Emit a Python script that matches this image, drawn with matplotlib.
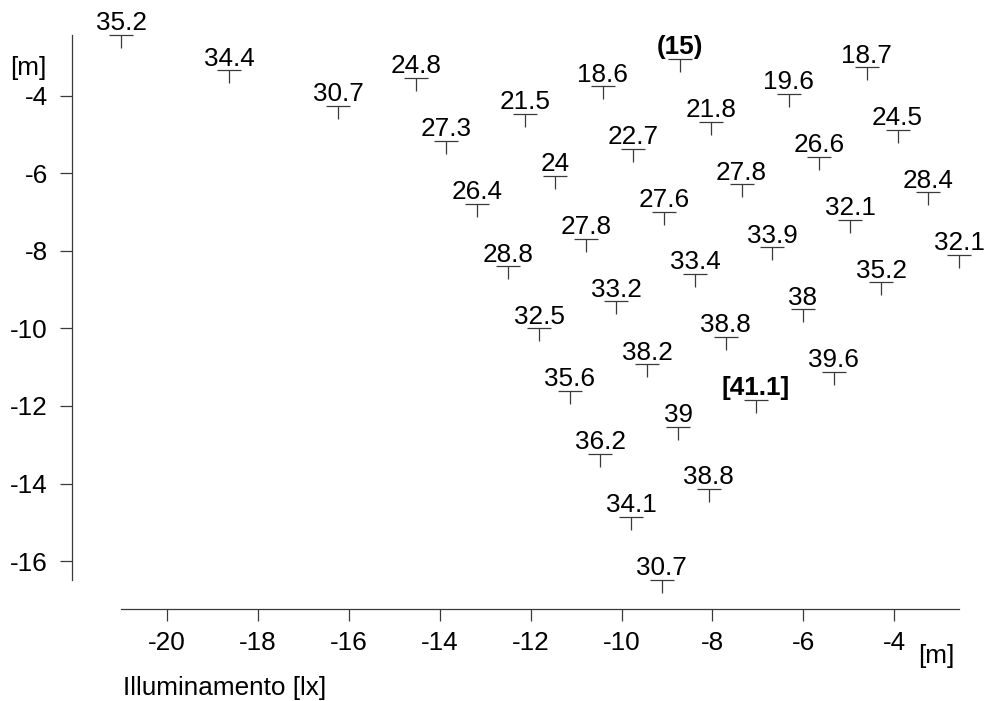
import matplotlib
matplotlib.use("Agg")
import matplotlib.pyplot as plt

plt.rcParams['font.family'] = ['Liberation Sans', 'DejaVu Sans']
plt.rcParams['axes.unicode_minus'] = False

# Data: positions [m] and illuminance labels [lx]
x = [-21.00, -18.62, -16.23, -14.52, -13.85, -12.13, -10.41, -11.46, -13.18, -10.78,
     -12.50, -8.71, -4.61, -6.32, -8.04, -3.93, -9.74, -5.65, -7.36, -3.25,
     -9.07, -4.97, -8.38, -10.11, -11.81, -7.71, -9.43, -11.14, -8.75, -6.68,
     -2.57, -4.29, -6.01, -5.33, -7.04, -10.47, -8.08, -9.79, -9.12]
y = [-2.43, -3.345, -4.26, -3.54, -5.17, -4.46, -3.76, -6.07, -6.785, -7.695,
     -8.40, -3.05, -3.27, -3.96, -4.67, -4.88, -5.37, -5.57, -6.285, -6.49,
     -6.99, -7.20, -8.60, -9.30, -10.00, -10.21, -10.93, -11.62, -12.535, -7.91,
     -8.10, -8.81, -9.51, -11.13, -11.84, -13.24, -14.14, -14.86, -16.48]
labels = ["35.2", "34.4", "30.7", "24.8", "27.3", "21.5", "18.6", "24", "26.4", "27.8",
          "28.8", "(15)", "18.7", "19.6", "21.8", "24.5", "22.7", "26.6", "27.8", "28.4",
          "27.6", "32.1", "33.4", "33.2", "32.5", "38.8", "38.2", "35.6", "39", "33.9",
          "32.1", "35.2", "38", "39.6", "[41.1]", "36.2", "38.8", "34.1", "30.7"]
bold_labels = ["(15)", "[41.1]"]

xticks = [-20, -18, -16, -14, -12, -10, -8, -6, -4]
yticks = [-4, -6, -8, -10, -12, -14, -16]

W, H = 986, 701
FS = 18.8
fig = plt.figure(figsize=(W / 100, H / 100), dpi=100)

# axes placement (pixels)
ax_left_px, ax_right_px = 72.3, 975.0
ax_top_px, ax_bot_px = 20.0, 609.3
ax = fig.add_axes([ax_left_px / W, 1 - ax_bot_px / H,
                   (ax_right_px - ax_left_px) / W, (ax_bot_px - ax_top_px) / H])

def px2x(px):
    return -20 + (px - 166.7) / 45.48

def py2y(py):
    return -4 - (py - 95.7) / 38.78

ax.set_xlim(px2x(ax_left_px), px2x(ax_right_px))
ax.set_ylim(py2y(ax_bot_px), py2y(ax_top_px))

col = '#3a3a3a'
ax.plot(x, y, ls='none', marker='_', ms=17.3, mew=0.9, color=col)
ax.plot(x, y, ls='none', marker=3, ms=9.1, mew=0.9, color=col)

for xi, yi, lab in zip(x, y, labels):
    ax.annotate(lab, (xi, yi), xytext=(0, 3.4), textcoords='offset points',
                ha='center', va='baseline', fontsize=FS, color='black',
                fontweight='bold' if lab in bold_labels else 'normal')

for s in ['top', 'right']:
    ax.spines[s].set_visible(False)
ax.spines['left'].set_bounds(min(y), max(y))
ax.spines['bottom'].set_bounds(min(x), max(x))
for s in ['left', 'bottom']:
    ax.spines[s].set_color(col)
    ax.spines[s].set_linewidth(0.9)

ax.set_xticks(xticks)
ax.set_yticks(yticks)
ax.set_xticklabels([str(t) for t in xticks])
ax.set_yticklabels([str(t) for t in yticks])
ax.tick_params(axis='both', length=8.6, width=0.9, color=col, labelsize=FS)
ax.tick_params(axis='y', pad=9)
ax.tick_params(axis='x', pad=7)

fig.text(47 / W, 1 - 56.5 / H, "[m]", ha='right', va='top', fontsize=FS)
fig.text(918 / W, 1 - 644.5 / H, "[m]", ha='left', va='top', fontsize=FS)
fig.text(123 / W, 1 - 676 / H, "Illuminamento [lx]", ha='left', va='top', fontsize=FS)

fig.savefig("out.png", dpi=100)
